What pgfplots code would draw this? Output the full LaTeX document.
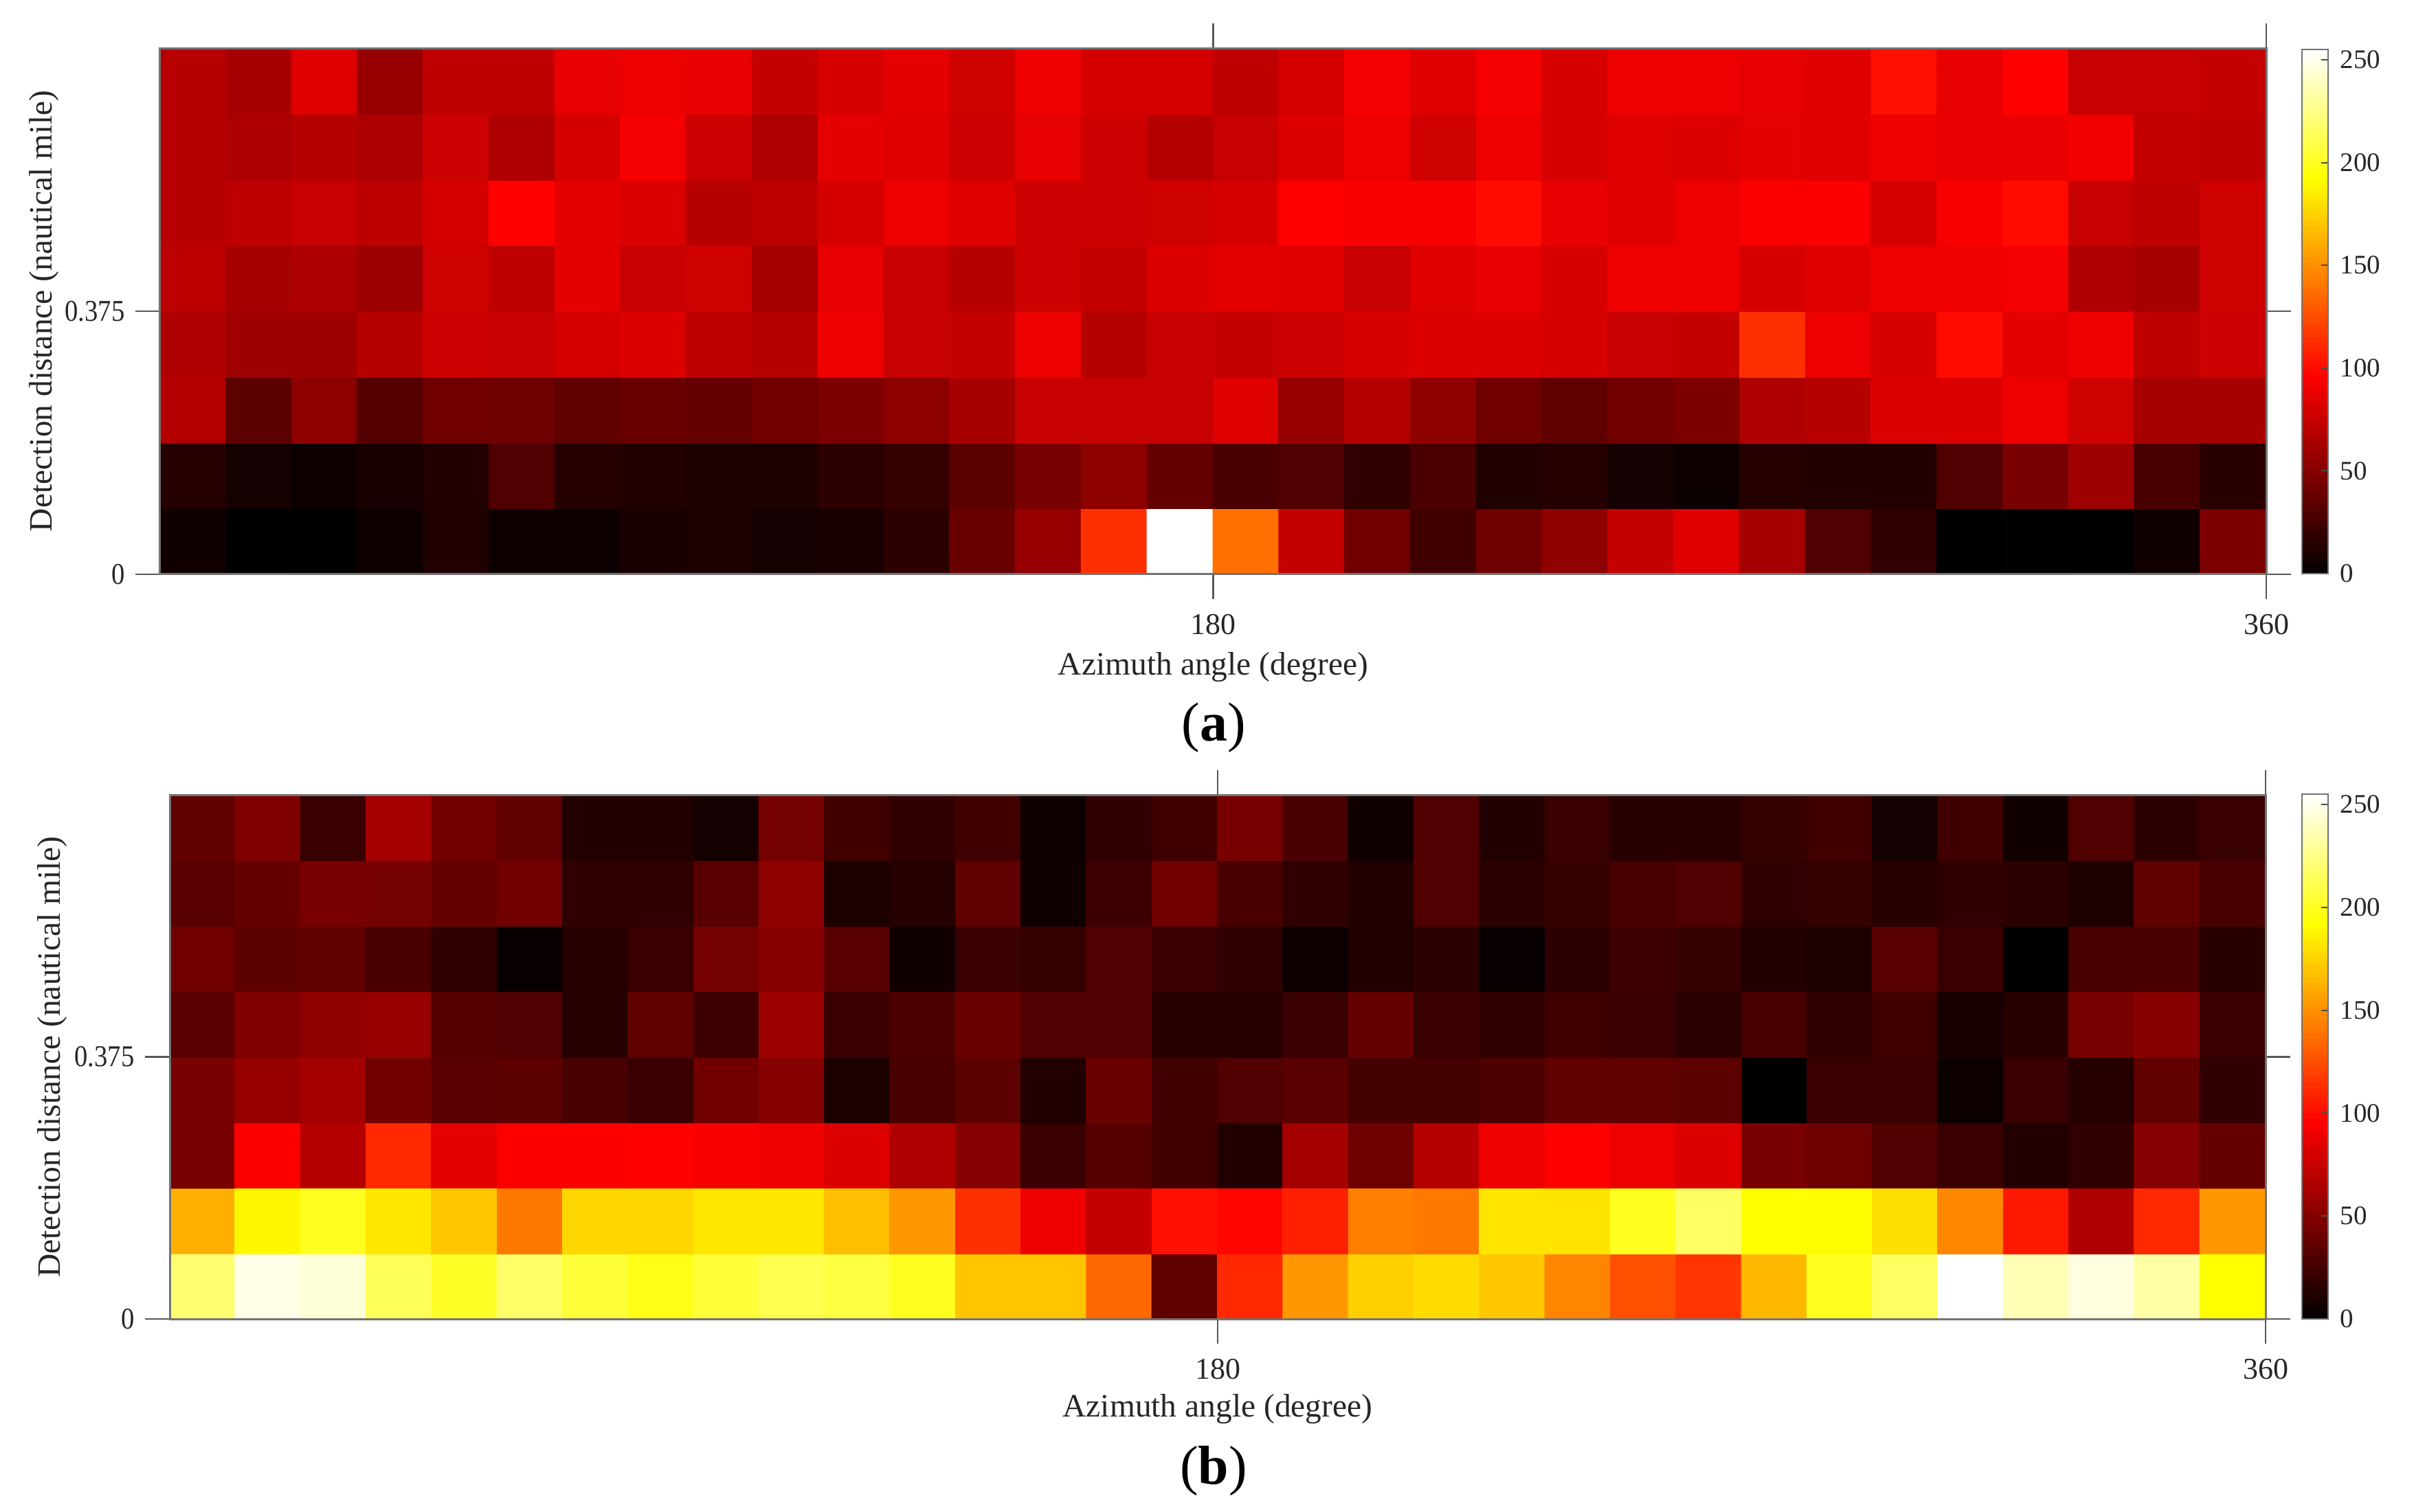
\documentclass[border=0pt]{standalone}
\usepackage{fontspec}
\setmainfont{Liberation Serif}
\usepackage{pgfplots}
\usepackage{pgfplotstable}
\pgfplotsset{compat=1.18}

% levels for the colour scale beside each panel
\pgfplotstableread[row sep=crcr]{
x v\\
0 0\\1 0\\0 3\\1 3\\0 6\\1 6\\0 9\\1 9\\0 12\\1 12\\0 15\\1 15\\0 18\\1 18\\0 21\\1 21\\0 24\\1 24\\0 27\\1 27\\
0 30\\1 30\\0 33\\1 33\\0 36\\1 36\\0 39\\1 39\\0 42\\1 42\\0 45\\1 45\\0 48\\1 48\\0 51\\1 51\\0 54\\1 54\\0 57\\1 57\\
0 60\\1 60\\0 63\\1 63\\0 66\\1 66\\0 69\\1 69\\0 72\\1 72\\0 75\\1 75\\0 78\\1 78\\0 81\\1 81\\0 84\\1 84\\0 87\\1 87\\
0 90\\1 90\\0 93\\1 93\\0 96\\1 96\\0 99\\1 99\\0 102\\1 102\\0 105\\1 105\\0 108\\1 108\\0 111\\1 111\\0 114\\1 114\\0 117\\1 117\\
0 120\\1 120\\0 123\\1 123\\0 126\\1 126\\0 129\\1 129\\0 132\\1 132\\0 135\\1 135\\0 138\\1 138\\0 141\\1 141\\0 144\\1 144\\0 147\\1 147\\
0 150\\1 150\\0 153\\1 153\\0 156\\1 156\\0 159\\1 159\\0 162\\1 162\\0 165\\1 165\\0 168\\1 168\\0 171\\1 171\\0 174\\1 174\\0 177\\1 177\\
0 180\\1 180\\0 183\\1 183\\0 186\\1 186\\0 189\\1 189\\0 192\\1 192\\0 195\\1 195\\0 198\\1 198\\0 201\\1 201\\0 204\\1 204\\0 207\\1 207\\
0 210\\1 210\\0 213\\1 213\\0 216\\1 216\\0 219\\1 219\\0 222\\1 222\\0 225\\1 225\\0 228\\1 228\\0 231\\1 231\\0 234\\1 234\\0 237\\1 237\\
0 240\\1 240\\0 243\\1 243\\0 246\\1 246\\0 249\\1 249\\0 252\\1 252\\0 255\\1 255\\
}\barlevels

\pgfplotsset{
  hotmap/.style={
    colormap={hotmap}{rgb255(0)=(0,0,0) rgb255(96)=(255,0,0) rgb255(192)=(255,255,0) rgb255(255)=(255,255,255)},
    point meta min=0, point meta max=255,
  },
  hotpanel/.style={
    hotmap,
    scale only axis,
    xmin=0, xmax=360, ymin=0, ymax=0.75,
    xtick={180,360}, ytick={0,0.375},
    yticklabels={0,0.375},
    tick align=outside,
    major tick length=7.2pt,
    tick style={black!65, line width=0.45pt},
    axis line style={black!55, line width=0.6pt},
    axis on top,
    tick label style={font=\fontsize{8.8}{10}\selectfont, text=black!85},
    yticklabel style={xscale=0.88},
    /pgf/number format/assume math mode=true,
    xlabel={Azimuth angle (degree)},
    ylabel={Detection distance (nautical mile)},
    label style={font=\fontsize{9.5}{11}\selectfont, text=black!85},
  },
  hotbar/.style={
    hotmap,
    scale only axis,
    width=7.6pt,
    xmin=0, xmax=1, ymin=0, ymax=255,
    xtick=\empty,
    ytick={0,50,100,150,200,250},
    tick align=inside,
    ytick pos=right,
    yticklabel pos=right,
    major tick length=2pt,
    tick style={black!70, line width=0.4pt},
    axis line style={black!55, line width=0.5pt},
    axis on top,
    tick label style={font=\fontsize{7.8}{9}\selectfont, text=black!85},
    /pgf/number format/assume math mode=true,
  },
  cells/.style={
    matrix plot*, mesh/cols=32, point meta=explicit,
    x filter/.expression={11.25*x+5.625},
    y filter/.expression={0.09375*y+0.046875},
  },
  % the filters of cells stay set for later plots, so the bars clear them
  barcells/.style={
    matrix plot*, mesh/cols=2, point meta=\thisrow{v},
    x filter/.code={}, y filter/.code={},
  },
}

\begin{document}
\begin{tikzpicture}
\path[use as bounding box] (0pt,0pt) rectangle (702.6pt,440pt);

% panel a
\begin{axis}[
    hotpanel,
    at={(46.6pt,272.8pt)}, anchor=south west,
    width=613pt, height=153.2pt,
    xlabel style={at={(axis description cs:0.5,-0.176)}, anchor=center},
    ylabel style={at={(axis description cs:-0.0550,0.5)}, anchor=center},
    xticklabel style={yshift=-1pt},
  ]
  \addplot[cells] coordinates {
    (0,0)[6] (1,0)[0] (2,0)[1] (3,0)[5] (4,0)[12] (5,0)[5] (6,0)[5] (7,0)[9] (8,0)[11] (9,0)[8] (10,0)[9] (11,0)[17] (12,0)[39] (13,0)[57] (14,0)[114] (15,0)[255] (16,0)[138] (17,0)[74] (18,0)[42] (19,0)[24] (20,0)[41] (21,0)[54] (22,0)[74] (23,0)[84] (24,0)[63] (25,0)[30] (26,0)[18] (27,0)[0] (28,0)[1] (29,0)[0] (30,0)[6] (31,0)[47]

    (0,1)[14] (1,1)[8] (2,1)[5] (3,1)[9] (4,1)[12] (5,1)[30] (6,1)[14] (7,1)[12] (8,1)[11] (9,1)[11] (10,1)[17] (11,1)[20] (12,1)[35] (13,1)[45] (14,1)[53] (15,1)[38] (16,1)[27] (17,1)[30] (18,1)[18] (19,1)[28] (20,1)[12] (21,1)[14] (22,1)[8] (23,1)[5] (24,1)[14] (25,1)[12] (26,1)[12] (27,1)[30] (28,1)[45] (29,1)[60] (30,1)[27] (31,1)[15]

    (0,2)[68] (1,2)[35] (2,2)[53] (3,2)[32] (4,2)[42] (5,2)[41] (6,2)[36] (7,2)[39] (8,2)[38] (9,2)[42] (10,2)[47] (11,2)[53] (12,2)[63] (13,2)[75] (14,2)[75] (15,2)[75] (16,2)[84] (17,2)[57] (18,2)[68] (19,2)[54] (20,2)[42] (21,2)[36] (22,2)[42] (23,2)[47] (24,2)[66] (25,2)[69] (26,2)[83] (27,2)[83] (28,2)[90] (29,2)[78] (30,2)[63] (31,2)[63]

    (0,3)[66] (1,3)[60] (2,3)[60] (3,3)[68] (4,3)[77] (5,3)[75] (6,3)[80] (7,3)[83] (8,3)[71] (9,3)[69] (10,3)[90] (11,3)[75] (12,3)[74] (13,3)[89] (14,3)[68] (15,3)[75] (16,3)[74] (17,3)[77] (18,3)[81] (19,3)[83] (20,3)[83] (21,3)[81] (22,3)[75] (23,3)[74] (24,3)[114] (25,3)[89] (26,3)[81] (27,3)[100] (28,3)[86] (29,3)[90] (30,3)[72] (31,3)[77]

    (0,4)[71] (1,4)[63] (2,4)[65] (3,4)[59] (4,4)[78] (5,4)[72] (6,4)[86] (7,4)[75] (8,4)[78] (9,4)[62] (10,4)[87] (11,4)[75] (12,4)[69] (13,4)[77] (14,4)[74] (15,4)[83] (16,4)[86] (17,4)[84] (18,4)[75] (19,4)[84] (20,4)[88] (21,4)[81] (22,4)[89] (23,4)[90] (24,4)[81] (25,4)[84] (26,4)[89] (27,4)[90] (28,4)[92] (29,4)[66] (30,4)[63] (31,4)[78]

    (0,5)[69] (1,5)[72] (2,5)[75] (3,5)[71] (4,5)[80] (5,5)[96] (6,5)[86] (7,5)[83] (8,5)[69] (9,5)[71] (10,5)[80] (11,5)[89] (12,5)[84] (13,5)[77] (14,5)[77] (15,5)[78] (16,5)[80] (17,5)[96] (18,5)[93] (19,5)[93] (20,5)[100] (21,5)[88] (22,5)[84] (23,5)[89] (24,5)[94] (25,5)[94] (26,5)[80] (27,5)[93] (28,5)[100] (29,5)[75] (30,5)[72] (31,5)[78]

    (0,6)[69] (1,6)[65] (2,6)[68] (3,6)[65] (4,6)[77] (5,6)[66] (6,6)[80] (7,6)[92] (8,6)[77] (9,6)[66] (10,6)[86] (11,6)[84] (12,6)[77] (13,6)[87] (14,6)[77] (15,6)[68] (16,6)[75] (17,6)[83] (18,6)[89] (19,6)[78] (20,6)[89] (21,6)[81] (22,6)[84] (23,6)[83] (24,6)[86] (25,6)[84] (26,6)[90] (27,6)[88] (28,6)[88] (29,6)[91] (30,6)[74] (31,6)[72]

    (0,7)[69] (1,7)[63] (2,7)[84] (3,7)[57] (4,7)[72] (5,7)[72] (6,7)[87] (7,7)[89] (8,7)[87] (9,7)[74] (10,7)[81] (11,7)[86] (12,7)[78] (13,7)[90] (14,7)[80] (15,7)[80] (16,7)[72] (17,7)[80] (18,7)[92] (19,7)[84] (20,7)[92] (21,7)[81] (22,7)[89] (23,7)[89] (24,7)[87] (25,7)[84] (26,7)[102] (27,7)[87] (28,7)[96] (29,7)[75] (30,7)[75] (31,7)[74]
  };
\end{axis}

\begin{axis}[hotbar, at={(670pt,273pt)}, anchor=south west, height=152.6pt]
  \addplot[barcells] table[x=x, y=v] {\barlevels};
\end{axis}

% panel b
\begin{axis}[
    hotpanel,
    at={(49.4pt,56pt)}, anchor=south west,
    width=610pt, height=152.6pt,
    xlabel style={at={(axis description cs:0.5,-0.172)}, anchor=center},
    ylabel style={at={(axis description cs:-0.0560,0.5)}, anchor=center},
    xticklabel style={yshift=-1pt},
  ]
  \addplot[cells] coordinates {
    (0,0)[220] (1,0)[249] (2,0)[245] (3,0)[214] (4,0)[202] (5,0)[218] (6,0)[206] (7,0)[198] (8,0)[206] (9,0)[212] (10,0)[208] (11,0)[200] (12,0)[170] (13,0)[170] (14,0)[135] (15,0)[36] (16,0)[111] (17,0)[153] (18,0)[174] (19,0)[179] (20,0)[171] (21,0)[146] (22,0)[126] (23,0)[116] (24,0)[165] (25,0)[200] (26,0)[216] (27,0)[255] (28,0)[237] (29,0)[247] (30,0)[233] (31,0)[192]

    (0,1)[162] (1,1)[189] (2,1)[200] (3,1)[183] (4,1)[171] (5,1)[141] (6,1)[177] (7,1)[177] (8,1)[183] (9,1)[183] (10,1)[168] (11,1)[153] (12,1)[114] (13,1)[90] (14,1)[74] (15,1)[102] (16,1)[98] (17,1)[108] (18,1)[144] (19,1)[141] (20,1)[182] (21,1)[182] (22,1)[200] (23,1)[216] (24,1)[192] (25,1)[191] (26,1)[180] (27,1)[147] (28,1)[105] (29,1)[66] (30,1)[111] (31,1)[153]

    (0,2)[45] (1,2)[95] (2,2)[68] (3,2)[111] (4,2)[86] (5,2)[95] (6,2)[95] (7,2)[96] (8,2)[93] (9,2)[90] (10,2)[83] (11,2)[66] (12,2)[50] (13,2)[21] (14,2)[32] (15,2)[24] (16,2)[12] (17,2)[62] (18,2)[41] (19,2)[68] (20,2)[90] (21,2)[96] (22,2)[89] (23,2)[83] (24,2)[45] (25,2)[41] (26,2)[30] (27,2)[21] (28,2)[12] (29,2)[18] (30,2)[50] (31,2)[38]

    (0,3)[45] (1,3)[57] (2,3)[62] (3,3)[42] (4,3)[33] (5,3)[35] (6,3)[27] (7,3)[21] (8,3)[42] (9,3)[51] (10,3)[11] (11,3)[27] (12,3)[35] (13,3)[12] (14,3)[39] (15,3)[24] (16,3)[30] (17,3)[33] (18,3)[26] (19,3)[26] (20,3)[29] (21,3)[36] (22,3)[36] (23,3)[35] (24,3)[0] (25,3)[21] (26,3)[21] (27,3)[5] (28,3)[21] (29,3)[14] (30,3)[36] (31,3)[18]

    (0,4)[33] (1,4)[48] (2,4)[54] (3,4)[57] (4,4)[32] (5,4)[30] (6,4)[14] (7,4)[36] (8,4)[23] (9,4)[59] (10,4)[21] (11,4)[29] (12,4)[39] (13,4)[30] (14,4)[30] (15,4)[15] (16,4)[14] (17,4)[21] (18,4)[38] (19,4)[21] (20,4)[18] (21,4)[24] (22,4)[21] (23,4)[17] (24,4)[27] (25,4)[18] (26,4)[24] (27,4)[9] (28,4)[15] (29,4)[45] (30,4)[51] (31,4)[21]

    (0,5)[42] (1,5)[35] (2,5)[36] (3,5)[27] (4,5)[18] (5,5)[3] (6,5)[14] (7,5)[21] (8,5)[44] (9,5)[51] (10,5)[33] (11,5)[6] (12,5)[21] (13,5)[20] (14,5)[30] (15,5)[21] (16,5)[18] (17,5)[5] (18,5)[12] (19,5)[17] (20,5)[3] (21,5)[17] (22,5)[23] (23,5)[20] (24,5)[12] (25,5)[11] (26,5)[33] (27,5)[21] (28,5)[0] (29,5)[27] (30,5)[27] (31,5)[15]

    (0,6)[33] (1,6)[38] (2,6)[45] (3,6)[44] (4,6)[38] (5,6)[42] (6,6)[18] (7,6)[18] (8,6)[33] (9,6)[54] (10,6)[11] (11,6)[14] (12,6)[36] (13,6)[6] (14,6)[23] (15,6)[42] (16,6)[27] (17,6)[18] (18,6)[12] (19,6)[30] (20,6)[17] (21,6)[20] (22,6)[27] (23,6)[30] (24,6)[18] (25,6)[20] (26,6)[15] (27,6)[18] (28,6)[17] (29,6)[11] (30,6)[36] (31,6)[27]

    (0,7)[36] (1,7)[48] (2,7)[21] (3,7)[62] (4,7)[42] (5,7)[36] (6,7)[12] (7,7)[12] (8,7)[8] (9,7)[44] (10,7)[24] (11,7)[18] (12,7)[24] (13,7)[5] (14,7)[18] (15,7)[24] (16,7)[45] (17,7)[27] (18,7)[6] (19,7)[30] (20,7)[12] (21,7)[21] (22,7)[15] (23,7)[15] (24,7)[20] (25,7)[24] (26,7)[8] (27,7)[24] (28,7)[6] (29,7)[30] (30,7)[17] (31,7)[21]
  };
\end{axis}

\begin{axis}[hotbar, at={(670pt,56pt)}, anchor=south west, height=152.8pt]
  \addplot[barcells] table[x=x, y=v] {\barlevels};
\end{axis}

\node[font=\fontsize{16}{18}\selectfont] at (353.2pt,228.1pt) {(\textbf{a})};
\node[font=\fontsize{16}{18}\selectfont] at (353.2pt,11.7pt) {(\textbf{b})};
\end{tikzpicture}
\end{document}
